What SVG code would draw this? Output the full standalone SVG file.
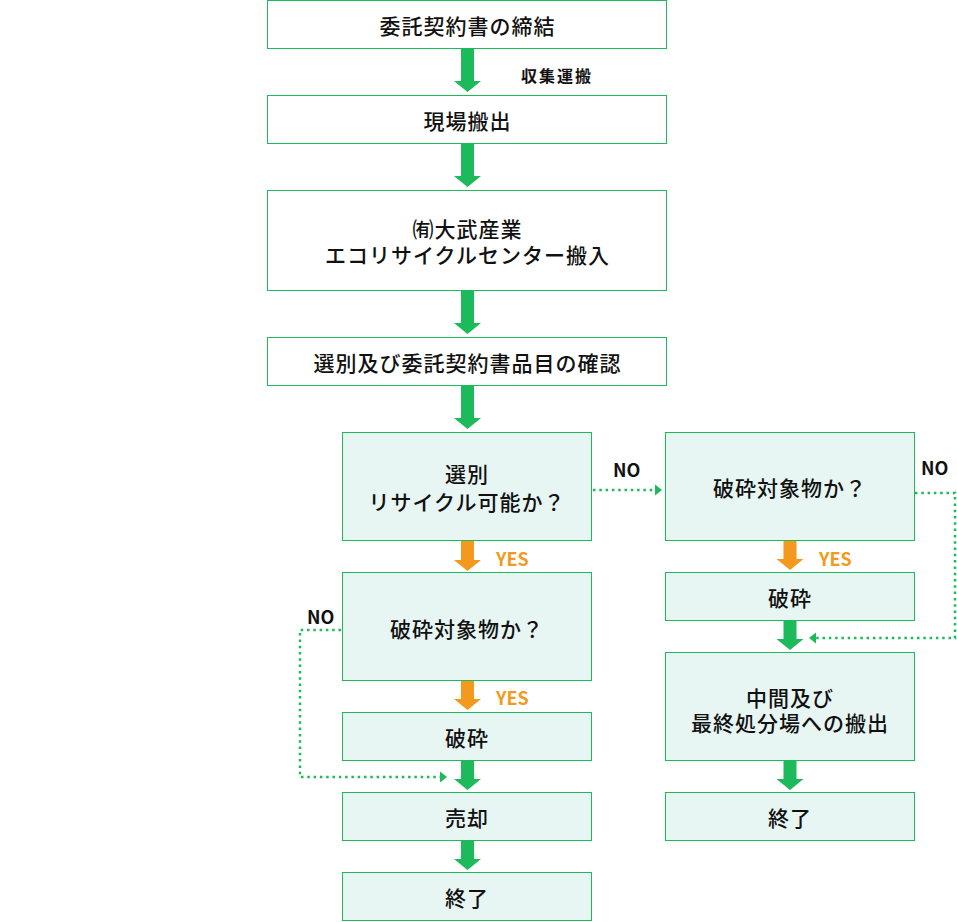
<svg xmlns="http://www.w3.org/2000/svg" width="957" height="922" viewBox="0 0 957 922">
<defs>
<style>
.box{fill:#ffffff;stroke:#1dba5b;stroke-width:1}
.tbox{fill:#e7f5f3;stroke:#1dba5b;stroke-width:1}
.t{font-family:"Noto Sans CJK JP","Noto Sans",sans-serif;font-size:21px;font-weight:500;fill:#111;text-anchor:middle;dominant-baseline:central;letter-spacing:1px}
.lbl{font-family:"Noto Sans CJK JP","Noto Sans",sans-serif;font-size:18px;font-weight:700;fill:#111;dominant-baseline:central}
.yes{fill:#f39a1e}
.ga{fill:#1dba5b}
.oa{fill:#f39a1e}
.dot{fill:none;stroke:#1dba5b;stroke-width:2.5;stroke-dasharray:2.5 3.8}
</style>
</defs>
<rect width="957" height="922" fill="#ffffff"/>
<g id="connectors">
<path class="ga" d="M461,49H474V81H481L467.5,92L454,81H461Z"/>
<path class="ga" d="M461,144H474V176H481L467.5,187L454,176H461Z"/>
<path class="ga" d="M461,291H474V323H481L467.5,334L454,323H461Z"/>
<path class="ga" d="M461,386H474V418H481L467.5,429L454,418H461Z"/>
<path class="oa" d="M461,541H474V560H481L467.5,571L454,560H461Z"/>
<path class="oa" d="M461,681H474V699H481L467.5,710L454,699H461Z"/>
<path class="ga" d="M461,761H474V779H481L467.5,790L454,779H461Z"/>
<path class="ga" d="M461,841H474V859H481L467.5,870L454,859H461Z"/>
<path class="oa" d="M783.5,541H796.5V559H803.5L790,570L776.5,559H783.5Z"/>
<path class="ga" d="M783.5,621H796.5V639H803.5L790,650L776.5,639H783.5Z"/>
<path class="ga" d="M783.5,761H796.5V779H803.5L790,790L776.5,779H783.5Z"/>
<path class="dot" d="M593,490H655"/>
<path class="ga" d="M655,484.5L662,490L655,495.5Z"/>
<path class="dot" d="M341,630H300V777H440"/>
<path class="ga" d="M440,771.5L447,777L440,782.5Z"/>
<path class="dot" d="M915,493H955V638H816"/>
<path class="ga" d="M816,632.5L809,638L816,643.5Z"/>
<text class="lbl" x="521" y="75" style="font-size:16px;letter-spacing:2px">収集運搬</text>
<text class="lbl" x="613" y="469">NO</text>
<text class="lbl yes" x="496" y="558">YES</text>
<text class="lbl" x="307" y="616">NO</text>
<text class="lbl yes" x="496" y="697">YES</text>
<text class="lbl" x="921" y="467">NO</text>
<text class="lbl yes" x="819" y="558">YES</text>
</g>
<g id="n1"><rect class="box" x="267.5" y="0.5" width="399" height="48"/><text class="t" x="467.5" y="24.5">委託契約書の締結</text></g>
<g id="n2"><rect class="box" x="267.5" y="95.5" width="399" height="48"/><text class="t" x="467.5" y="119.5">現場搬出</text></g>
<g id="n3"><rect class="box" x="267.5" y="190.5" width="399" height="100"/><text class="t" x="467.5" y="228">㈲大武産業</text><text class="t" x="467.5" y="254">エコリサイクルセンター搬入</text></g>
<g id="n4"><rect class="box" x="267.5" y="337.5" width="399" height="48"/><text class="t" x="467.5" y="361.5">選別及び委託契約書品目の確認</text></g>
<g id="n5"><rect class="tbox" x="342.5" y="432.5" width="249" height="108"/><text class="t" x="467" y="473">選別</text><text class="t" x="467" y="501">リサイクル可能か？</text></g>
<g id="n6"><rect class="tbox" x="342.5" y="572.5" width="249" height="108"/><text class="t" x="467" y="628">破砕対象物か？</text></g>
<g id="n7"><rect class="tbox" x="342.5" y="712.5" width="249" height="48"/><text class="t" x="467" y="736.5">破砕</text></g>
<g id="n8"><rect class="tbox" x="342.5" y="792.5" width="249" height="48"/><text class="t" x="467" y="816.5">売却</text></g>
<g id="n9"><rect class="tbox" x="342.5" y="872.5" width="249" height="48"/><text class="t" x="467" y="896.5">終了</text></g>
<g id="r1"><rect class="tbox" x="665.5" y="432.5" width="249" height="108"/><text class="t" x="790" y="487">破砕対象物か？</text></g>
<g id="r2"><rect class="tbox" x="665.5" y="572.5" width="249" height="48"/><text class="t" x="790" y="596.5">破砕</text></g>
<g id="r3"><rect class="tbox" x="665.5" y="652.5" width="249" height="108"/><text class="t" x="790" y="697">中間及び</text><text class="t" x="790" y="722">最終処分場への搬出</text></g>
<g id="r4"><rect class="tbox" x="665.5" y="792.5" width="249" height="48"/><text class="t" x="790" y="816.5">終了</text></g>
</svg>
